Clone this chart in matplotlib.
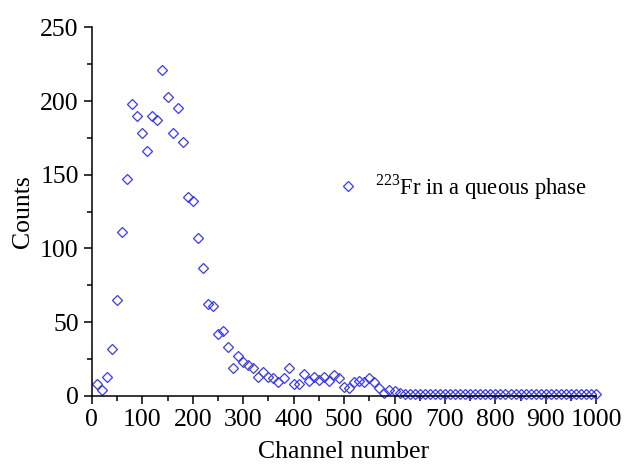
import matplotlib
matplotlib.use("Agg")
import matplotlib.pyplot as plt
from matplotlib.ticker import MultipleLocator

plt.rcParams['font.family'] = ['Liberation Serif', 'DejaVu Serif']
plt.rcParams['mathtext.fontset'] = 'custom'
plt.rcParams['mathtext.rm'] = 'Liberation Serif'

channels = list(range(10, 1001, 10))
counts_head = [8, 4, 13, 32, 65, 111, 147, 198, 190, 178,
               166, 190, 187, 221, 203, 178, 195, 172, 135, 132,
               107, 87, 62, 61, 42, 44, 33, 19, 27, 23,
               21, 19, 13, 16, 13, 12, 9, 12, 19, 8,
               8, 15, 10, 13, 11, 13, 10, 14, 12, 6,
               5, 9, 10, 9, 12, 9, 5, 2, 4, 3,
               2]
counts_tail = [1] * (len(channels) - len(counts_head))
counts = counts_head + counts_tail
series_label = r"$^{223}$Fr in a queous phase"

fig = plt.figure(figsize=(6.25, 4.65), dpi=100)
ax = fig.add_axes([0.147, 0.149, 0.807, 0.792])
ax.plot(channels, counts, linestyle='none', marker='D', markersize=4.8,
        markerfacecolor='none', markeredgecolor='#3a3aee', markeredgewidth=0.9,
        label=series_label, clip_on=False)

ax.set_xlim(0, 1000)
ax.set_ylim(0, 250)
ax.xaxis.set_major_locator(MultipleLocator(100))
ax.xaxis.set_minor_locator(MultipleLocator(50))
ax.yaxis.set_major_locator(MultipleLocator(50))
ax.yaxis.set_minor_locator(MultipleLocator(25))
ax.tick_params(which='major', direction='out', length=6, width=1.1, labelsize=18.5)
ax.tick_params(which='minor', direction='out', length=3.5, width=1.1)
for s in ['top', 'right']:
    ax.spines[s].set_visible(False)
for s in ['left', 'bottom']:
    ax.spines[s].set_linewidth(1.1)

ax.set_xlabel('Channel number', fontsize=18.5, labelpad=7)
ax.set_ylabel('Counts', fontsize=18.5, labelpad=4)

leg = ax.legend(loc='center left', bbox_to_anchor=(0.4855, 0.5665), frameon=False,
                fontsize=16.3, handletextpad=0.7, handlelength=1.0,
                borderpad=0, borderaxespad=0)

fig.savefig('out.png', dpi=100)
